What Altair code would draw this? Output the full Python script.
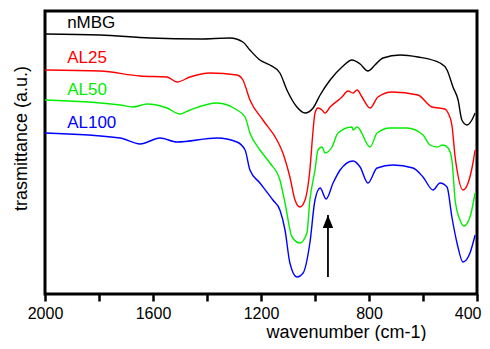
import altair as alt
import pandas as pd

# wavenumber (cm-1) and transmittance (a.u.)
nmbg_wn = [2000, 1796, 1611, 1426, 1315, 1267, 1241, 1204, 1167, 1130, 1104, 1067, 1037, 1007, 981, 944, 900, 863, 833, 804, 778, 748, 685, 619, 537, 511, 489, 470, 456, 437, 419, 407]
nmbg_t = [260, 259, 256, 255, 256, 252, 244, 234, 229, 221, 204, 187, 181, 186, 199, 214, 227, 234, 230, 223, 229, 236, 239, 237, 231, 224, 207, 194, 174, 169, 174, 181]

al25_wn = [2000, 1796, 1648, 1548, 1511, 1463, 1389, 1289, 1267, 1241, 1193, 1141, 1119, 1093, 1074, 1056, 1037, 1019, 1007, 1000, 989, 974, 963, 944, 900, 878, 859, 844, 826, 796, 767, 715, 619, 567, 519, 507, 493, 481, 474, 452, 433, 415, 407]
al25_t = [224, 223, 218, 217, 212, 217, 221, 219, 214, 194, 174, 154, 141, 117, 94, 87, 94, 124, 164, 181, 186, 184, 181, 187, 197, 203, 201, 204, 197, 186, 197, 202, 199, 187, 185, 181, 169, 137, 124, 104, 111, 131, 144]

al50_wn = [2000, 1722, 1674, 1622, 1548, 1500, 1463, 1363, 1289, 1259, 1241, 1204, 1167, 1130, 1111, 1085, 1056, 1030, 1019, 1000, 989, 974, 963, 937, 915, 863, 859, 844, 796, 770, 722, 659, 600, 574, 548, 526, 507, 493, 481, 463, 448, 426, 407]
al50_t = [194, 189, 187, 190, 186, 180, 184, 191, 184, 177, 161, 144, 131, 114, 91, 57, 51, 61, 94, 124, 144, 147, 141, 147, 161, 167, 164, 167, 147, 161, 166, 166, 159, 149, 147, 149, 146, 134, 94, 74, 68, 77, 101]

al100_wn = [2000, 1722, 1648, 1574, 1511, 1363, 1289, 1259, 1241, 1204, 1156, 1130, 1111, 1093, 1067, 1044, 1019, 1000, 981, 959, 933, 907, 859, 833, 804, 770, 711, 637, 600, 563, 537, 511, 493, 474, 452, 426, 407]
al100_t = [161, 156, 150, 156, 152, 156, 152, 144, 124, 111, 94, 84, 64, 31, 17, 21, 51, 94, 106, 95, 111, 124, 133, 127, 111, 126, 129, 126, 117, 104, 111, 107, 77, 51, 32, 41, 59]

series_names = ["nMBG", "AL25", "AL50", "AL100"]
series_colors = ["#000000", "#ff0000", "#00ee00", "#0000ff"]
label_wn = [1918, 1918, 1918, 1918]
label_t = [266, 231, 199, 166]

arrow_wn = [952]
arrow_t0 = [17]
arrow_t1 = [79]

x_ticks = [2000, 1900, 1800, 1700, 1600, 1500, 1400, 1300, 1200, 1100, 1000, 900, 800, 700, 600, 500, 400]

rows = []
for name, wn, t in zip(series_names, [nmbg_wn, al25_wn, al50_wn, al100_wn], [nmbg_t, al25_t, al50_t, al100_t]):
    for a, b in zip(wn, t):
        rows.append({"series": name, "wn": a, "t": b})
df = pd.DataFrame(rows)
labels_df = pd.DataFrame({"series": series_names, "wn": label_wn, "t": label_t})
arrow_df = pd.DataFrame({"wn": arrow_wn, "t0": arrow_t0, "t1": arrow_t1})

FONT = "Liberation Sans"

xscale = alt.Scale(domain=[400, 2000], reverse=True, nice=False, zero=False)
yscale = alt.Scale(domain=[0, 283], nice=False, zero=False)
color_scale = alt.Scale(domain=series_names, range=series_colors)

x_axis = alt.Axis(
    values=x_ticks,
    labelExpr="datum.value % 400 == 0 ? datum.label : ''",
    format="d",
    tickSize={"condition": {"test": "datum.value % 200 == 0", "value": 7}, "value": 3},
    tickWidth={"condition": {"test": "datum.value % 200 == 0", "value": 2.5}, "value": 1.5},
    tickColor="black",
    domain=False,
    grid=False,
    labelFont=FONT,
    labelFontSize=16,
    labelColor="black",
    labelPadding=4,
    labelOverlap=False,
    labelFlush=False,
    labelAlign={"condition": {"test": "datum.value == 400", "value": "right"}, "value": "center"},
    labelOffset={"condition": {"test": "datum.value == 400", "value": 4}, "value": 0},
    title="wavenumber (cm-1)",
    titleFont=FONT,
    titleFontSize=18,
    titleFontWeight="normal",
    titleColor="black",
    titleX=301,
    titleY=43,
    titleBaseline="alphabetic",
)
y_axis = alt.Axis(
    ticks=False,
    labels=False,
    domain=False,
    grid=False,
    title="trasmittance (a.u.)",
    titleFont=FONT,
    titleFontSize=18,
    titleFontWeight="normal",
    titleColor="black",
    titlePadding=15,
    titleY=127,
)

lines = alt.Chart(df).mark_line(interpolate="monotone", strokeWidth=1.4).encode(
    x=alt.X("wn:Q", scale=xscale, axis=x_axis),
    y=alt.Y("t:Q", scale=yscale, axis=y_axis),
    color=alt.Color("series:N", scale=color_scale, legend=None),
    detail="series:N",
)

texts = alt.Chart(labels_df).mark_text(
    align="left", baseline="alphabetic", font=FONT, fontSize=17
).encode(
    x=alt.X("wn:Q", scale=xscale),
    y=alt.Y("t:Q", scale=yscale),
    text="series:N",
    color=alt.Color("series:N", scale=color_scale, legend=None),
)

shaft = alt.Chart(arrow_df).mark_rule(color="black", strokeWidth=1.8).encode(
    x=alt.X("wn:Q", scale=xscale),
    y=alt.Y("t0:Q", scale=yscale),
    y2="t1:Q",
)

head = alt.Chart(arrow_df).mark_point(
    shape="M0,0 L-0.4,1 L0.4,1 Z", size=676, filled=True, color="black", opacity=1
).encode(
    x=alt.X("wn:Q", scale=xscale),
    y=alt.Y("t1:Q", scale=yscale),
)

chart = alt.layer(lines, texts, shaft, head).properties(
    width=432,
    height=283,
    background="white",
    autosize=alt.AutoSizeParams(type="none"),
    padding={"left": 37, "top": 3, "right": 5, "bottom": 47},
).configure_view(stroke="black", strokeWidth=3)

chart.save("out.html", embed_options={"renderer": "svg", "actions": False})
